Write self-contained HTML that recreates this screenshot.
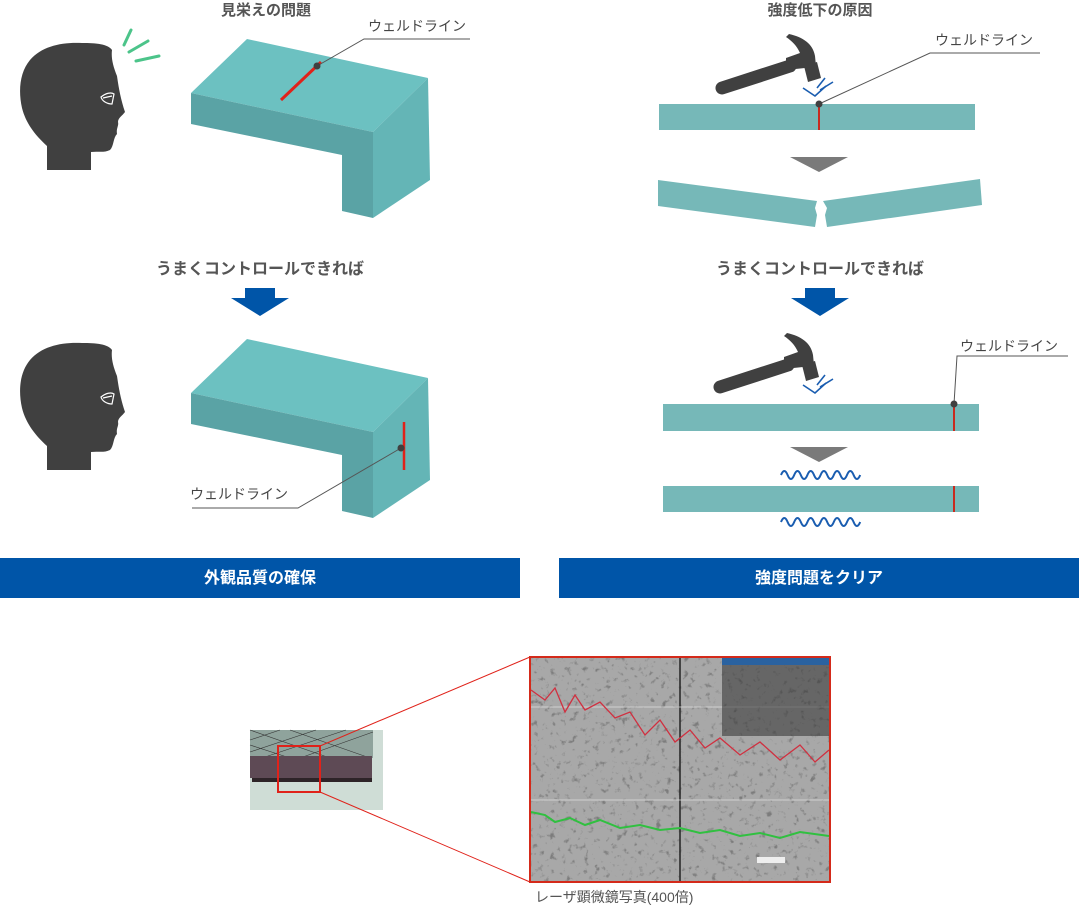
<!DOCTYPE html>
<html><head><meta charset="utf-8"><style>
html,body{margin:0;padding:0;background:#fff;width:1079px;height:906px;overflow:hidden}
svg{display:block}
text{font-family:"Liberation Sans","Noto Sans CJK JP",sans-serif}
</style></head><body>
<svg width="1079" height="906" viewBox="0 0 1079 906" xmlns="http://www.w3.org/2000/svg">
<defs>
<g id="head">
<path d="M47,170 L47,146 C36,136 26,124 22,108 C18,90 20,72 30,60 C42,46 62,42 82,43 C96,43 108,44 112,50 C111,58 113,66 117,76 C119,90 121,100 125,112 C122,116 118,118 118,122 C119,126 116,128 117,134 C113,138 114,146 110,150 C104,153 98,151 91,152 L91,170 Z" fill="#404040"/>
<path d="M101,97 C106,93 111,92 114,94 L112,104 C107,104 102,101 101,97 Z M103,98 L112,96" fill="none" stroke="#fff" stroke-width="1.2"/>
</g>
<g id="hammer">
<line x1="722" y1="88" x2="790" y2="66" stroke="#404040" stroke-width="13" stroke-linecap="round"/>
<path d="M786,70 L786,58 L800,53 C797,46 792,41 786,37 L789,34 C803,37 813,44 815,56 L816,66 L805,68 Z" fill="#404040"/>
<path d="M804,66 L817,62 L821,78 L808,82 Z" fill="#404040"/>
</g>
<g id="spark" fill="none" stroke="#1a5db0" stroke-width="1.6">
<path d="M803,88 L815,96 L826,86"/><path d="M817,88 L825,78"/><path d="M820,90 L833,82"/>
</g>
<g id="block">
<polygon points="191,93 247,39 428,78 373,132" fill="#6cc1c1"/>
<polygon points="191,93 373,132 373,218 342,211 342,155 191,124" fill="#5aa3a5"/>
<polygon points="373,132 428,78 430,180 373,218" fill="#64b5b6"/>
</g>
<filter id="tex" x="0" y="0" width="100%" height="100%">
<feTurbulence type="fractalNoise" baseFrequency="0.18" numOctaves="3" seed="4"/>
<feColorMatrix type="matrix" values="0 0 0 0 0.2  0 0 0 0 0.2  0 0 0 0 0.2  -3 -3 0 0 2.6"/>
</filter>
</defs>

<text x="266" y="15" font-size="15" font-weight="bold" fill="#555" text-anchor="middle">見栄えの問題</text>
<use href="#head"/>
<g stroke="#4cc48a" stroke-width="3" stroke-linecap="round">
<line x1="124" y1="45" x2="131" y2="30"/><line x1="129" y1="52" x2="148" y2="41"/><line x1="136" y1="61" x2="159" y2="56"/>
</g>
<use href="#block"/>
<line x1="281" y1="100" x2="321" y2="62" stroke="#e0221a" stroke-width="3"/>
<polyline points="317,66 364,39 470,39" fill="none" stroke="#555" stroke-width="1"/>
<circle cx="317" cy="66" r="3.5" fill="#404040"/>
<text x="368" y="31" font-size="14" fill="#444">ウェルドライン</text>

<text x="260" y="274" font-size="16" font-weight="bold" fill="#555" text-anchor="middle">うまくコントロールできれば</text>
<polygon points="245,288 275,288 275,298 289,298 260,316 231,298 245,298" fill="#0055a8"/>

<use href="#head" transform="translate(0,300)"/>
<use href="#block" transform="translate(0,300)"/>
<line x1="404" y1="422" x2="404" y2="470" stroke="#e0221a" stroke-width="2.5"/>
<polyline points="401,448 298,508 192,508" fill="none" stroke="#555" stroke-width="1"/>
<circle cx="401" cy="448" r="3.5" fill="#404040"/>
<text x="190" y="499" font-size="14" fill="#444">ウェルドライン</text>

<text x="820" y="15" font-size="15" font-weight="bold" fill="#555" text-anchor="middle">強度低下の原因</text>
<use href="#hammer"/><use href="#spark"/>
<rect x="659" y="104" width="316" height="26" fill="#76b8b8"/>
<line x1="819" y1="104" x2="819" y2="130" stroke="#c82a1f" stroke-width="2"/>
<polyline points="819,104 930,53 1040,53" fill="none" stroke="#555" stroke-width="1"/>
<circle cx="819" cy="104" r="3.5" fill="#404040"/>
<text x="935" y="45" font-size="14" fill="#444">ウェルドライン</text>
<polygon points="790,157 848,157 819,172" fill="#7a7a7a"/>
<polygon points="658,180 817,201 815,208 817,215 815,227 658,206" fill="#76b8b8"/>
<polygon points="823,201 980,179 982,205 827,227 825,215 827,208" fill="#76b8b8"/>

<text x="820" y="274" font-size="16" font-weight="bold" fill="#555" text-anchor="middle">うまくコントロールできれば</text>
<polygon points="805,288 835,288 835,298 849,298 820,316 791,298 805,298" fill="#0055a8"/>

<use href="#hammer" transform="translate(-2,299)"/><use href="#spark" transform="translate(0,297)"/>
<rect x="663" y="404" width="316" height="27" fill="#76b8b8"/>
<line x1="954" y1="404" x2="954" y2="431" stroke="#c82a1f" stroke-width="2"/>
<polyline points="954,404 957,356 1068,356" fill="none" stroke="#555" stroke-width="1"/>
<circle cx="954" cy="404" r="3.5" fill="#404040"/>
<text x="960" y="351" font-size="14" fill="#444">ウェルドライン</text>
<polygon points="790,447 848,447 819,462" fill="#7a7a7a"/>
<path d="M781,475 q3.3,-8 6.6,0 t6.6,0 t6.6,0 t6.6,0 t6.6,0 t6.6,0 t6.6,0 t6.6,0 t6.6,0 t6.6,0 t6.6,0 t6.6,0" fill="none" stroke="#1a5db0" stroke-width="2"/>
<rect x="663" y="486" width="316" height="26" fill="#76b8b8"/>
<line x1="954" y1="486" x2="954" y2="512" stroke="#c82a1f" stroke-width="2"/>
<path d="M781,522 q3.3,-8 6.6,0 t6.6,0 t6.6,0 t6.6,0 t6.6,0 t6.6,0 t6.6,0 t6.6,0 t6.6,0 t6.6,0 t6.6,0 t6.6,0" fill="none" stroke="#1a5db0" stroke-width="2"/>

<rect x="0" y="558" width="520" height="40" fill="#0055a8"/>
<text x="260" y="583" font-size="16" font-weight="bold" fill="#fff" text-anchor="middle">外観品質の確保</text>
<rect x="559" y="558" width="520" height="40" fill="#0055a8"/>
<text x="819" y="583" font-size="16" font-weight="bold" fill="#fff" text-anchor="middle">強度問題をクリア</text>

<rect x="250" y="730" width="133" height="80" fill="#cfddd6"/>
<rect x="250" y="730" width="123" height="28" fill="#8fa39c"/>
<path d="M250,740 l30,-10 M250,752 l66,-22 M262,758 l84,-28 M300,758 l73,-26 M250,730 l80,28 M290,730 l80,28 M250,745 l40,13" stroke="#333" stroke-width="0.6"/>
<rect x="250" y="756" width="122" height="22" fill="#5e4a55"/>
<rect x="252" y="778" width="120" height="4" fill="#2e2428"/>
<rect x="278" y="746" width="42" height="46" fill="none" stroke="#e0221a" stroke-width="2"/>
<line x1="320" y1="746" x2="530" y2="657" stroke="#e0221a" stroke-width="1"/>
<line x1="320" y1="792" x2="530" y2="882" stroke="#e0221a" stroke-width="1"/>
<rect x="530" y="657" width="300" height="225" fill="#a8a8a8"/>
<rect x="530" y="657" width="300" height="225" filter="url(#tex)"/>
<line x1="680" y1="657" x2="680" y2="882" stroke="#222" stroke-width="1.5"/>
<line x1="530" y1="707" x2="830" y2="707" stroke="#ddd" stroke-width="0.8"/>
<line x1="530" y1="800" x2="830" y2="800" stroke="#ddd" stroke-width="0.8"/>
<rect x="722" y="658" width="107" height="78" fill="#3a3a3a" opacity="0.6"/>
<rect x="722" y="658" width="107" height="7" fill="#2a62a0"/>
<polyline points="531,690 545,700 555,688 565,712 575,695 585,710 600,702 615,718 630,712 645,735 660,720 675,742 690,730 705,748 720,738 740,755 760,742 780,760 800,745 815,762 829,750" fill="none" stroke="#d03040" stroke-width="1.3"/>
<polyline points="531,812 545,815 555,822 570,818 585,825 600,820 620,828 640,825 660,830 680,828 700,833 720,830 740,836 760,833 780,838 800,832 829,836" fill="none" stroke="#30c040" stroke-width="2"/>
<rect x="757" y="857" width="28" height="6" fill="#eee"/>
<rect x="530" y="657" width="300" height="225" fill="none" stroke="#d42a1a" stroke-width="2"/>
<text x="535" y="902" font-size="14" fill="#555">レーザ顕微鏡写真(400倍)</text>
</svg>
</body></html>
